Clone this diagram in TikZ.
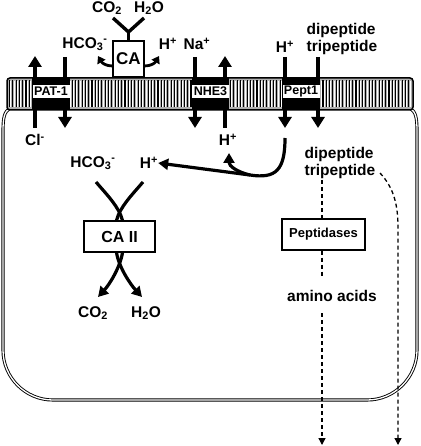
\documentclass[tikz,border=0pt]{standalone}
\usepackage{fontspec}
\setmainfont{Liberation Sans}
\usetikzlibrary{arrows.meta}
\begin{document}
\begin{tikzpicture}[x=1pt,y=-1pt,
  lbl/.style={font=\fontsize{15.5}{17}\selectfont\bfseries, inner sep=0pt},
  tlabel/.style={fill=white, font=\fontsize{12.5}{12.5}\selectfont\bfseries, inner sep=0pt, minimum width=37pt, minimum height=13pt},
  enzbox/.style={draw, line width=1.1pt, fill=white, inner sep=0pt},
  bigarr/.style={line width=4pt, -{Triangle[width=13pt,length=11pt]}},
  midarr/.style={line width=3.2pt, -{Triangle[width=11pt,length=10pt]}},
  smallarr/.style={line width=2.8pt, -{Triangle[width=9pt,length=7pt]}},
  dsh/.style={line width=1.3pt, dash pattern=on 4pt off 3pt, -{Triangle[width=7pt,length=7pt]}},
  dshplain/.style={line width=1.3pt, dash pattern=on 4pt off 3pt}
]
\useasboundingbox (0,0) rectangle (420,446);

% cell outline (double line)
\draw[line width=0.9pt, double=white, double distance=1.3pt]
  (10,108) .. controls (4,112) and (3,118) .. (3,132) -- (3,350)
  .. controls (3,377.6) and (25.4,400) .. (53,400) -- (367,400)
  .. controls (394.6,400) and (417,377.6) .. (417,350) -- (417,132)
  .. controls (417,118) and (416,112) .. (410,108);

% membrane
\fill[gray!62, rounded corners=3pt] (7,78) rectangle (413,110);
\foreach \x in {9.5,12.8,...,411} {
  \draw[line width=1.1pt] (\x,80.5) -- (\x,107.5);
  \draw[white, line width=0.3pt] (\x+1,81) -- (\x+1,107);
}
\draw[line width=1.5pt, rounded corners=3pt] (7,78) rectangle (413,110);

% transporter blocks
\fill (32,78) rectangle (70,110);
\fill (192,78) rectangle (229,110);
\fill (282,78) rectangle (320,110);

% text labels
\node[lbl] (cl) at (35,140) {Cl\textsuperscript{-}};
\node[lbl] (hco3o) at (85,44) {HCO\textsubscript{3}\textsuperscript{-}};
\node[lbl] (co2o) at (107,8) {CO\textsubscript{2}};
\node[lbl] (h2oo) at (149,8) {H\textsubscript{2}O};
\node[lbl] (hca) at (168,44) {H\textsuperscript{+}};
\node[lbl] (na) at (197,44) {Na\textsuperscript{+}};
\node[lbl] (hnhe) at (228,140) {H\textsuperscript{+}};
\node[lbl] (hpept) at (285,47) {H\textsuperscript{+}};
\node[lbl, align=left] (dipo) at (342,39) {dipeptide\\tripeptide};
\node[lbl] (hco3i) at (93,163) {HCO\textsubscript{3}\textsuperscript{-}};
\node[lbl] (hi) at (149,163) {H\textsuperscript{+}};
\node[lbl] (co2i) at (93,313) {CO\textsubscript{2}};
\node[lbl] (h2oi) at (146,313) {H\textsubscript{2}O};
\node[lbl, align=left] (dipi) at (340,163) {dipeptide\\tripeptide};
\node[lbl] (amino) at (332,296) {amino acids};

% CA box and Y
\node[enzbox, minimum width=31pt, minimum height=36pt, font=\fontsize{17}{17}\selectfont\bfseries] (ca) at (128.5,59) {CA};
\coordinate (yj) at (128.5,32);
\coordinate (yl) at (113,18);
\coordinate (yr) at (144,18);
\draw[line width=3.4pt, line join=miter] (yl) -- (yj) -- (yr);
\draw[line width=3.4pt] (ca.north) -- (yj);
\coordinate (cal) at (98,56);
\coordinate (car) at (159,56);
\draw[smallarr] (ca.west |- 0,66) .. controls (106,66) and (102,63) .. (cal);
\draw[smallarr] (ca.east |- 0,66) .. controls (151,66) and (155,63) .. (car);

% transport arrows
\coordinate (p1a) at (35,128); \coordinate (p1b) at (35,56);
\coordinate (p2a) at (65,57);  \coordinate (p2b) at (65,128);
\coordinate (n1a) at (195,57); \coordinate (n1b) at (195,128);
\coordinate (n2a) at (225,128); \coordinate (n2b) at (225,56);
\coordinate (t1a) at (285,57); \coordinate (t1b) at (285,128);
\coordinate (t2a) at (318,57); \coordinate (t2b) at (318,128);
\draw[bigarr] (p1a) -- (p1b);
\draw[bigarr] (p2a) -- (p2b);
\draw[bigarr] (n1a) -- (n1b);
\draw[bigarr] (n2a) -- (n2b);
\draw[bigarr] (t1a) -- (t1b);
\draw[bigarr] (t2a) -- (t2b);

% transporter labels
\node[tlabel] (pat) at (51,91.5) {PAT-1};
\node[tlabel] (nhe) at (210.5,91.5) {NHE3};
\node[tlabel] (pept) at (301,91.5) {Pept1};

% H+ recycling arrow
\coordinate (hs) at (285,138);
\coordinate (hj) at (250,175);
\coordinate (hsm) at (229,153);
\draw[midarr] (hs) .. controls (285,170) and (276,179) .. (hj) -- (hi.east);
\draw[midarr] (hj) .. controls (237,172) and (229,166) .. (hsm);

% CA II
\node[enzbox, minimum width=71pt, minimum height=31pt, font=\fontsize{16}{16}\selectfont\bfseries] (ca2) at (119.5,236.5) {CA II};
\draw[line width=3.2pt] (96,182) .. controls (108,196) and (119,207) .. ([xshift=3pt]ca2.north);
\draw[line width=3.2pt] (143,182) .. controls (131,196) and (120,207) .. ([xshift=-3pt]ca2.north);
\coordinate (c2l) at (98,297);
\coordinate (c2r) at (142,297);
\draw[midarr] ([xshift=3pt]ca2.south) .. controls (120,268) and (109,285) .. (c2l);
\draw[midarr] ([xshift=-3pt]ca2.south) .. controls (119,268) and (131,285) .. (c2r);

% Peptidases
\node[enzbox, minimum width=83pt, minimum height=31pt, font=\fontsize{13}{13}\selectfont\bfseries] (pep) at (323.5,234.5) {Peptidases};
\coordinate (d1) at (322,180);
\coordinate (d2) at (322,278);
\coordinate (d3) at (322,313);
\coordinate (d4) at (322,445);
\draw[dshplain] (d1) -- (pep.north -| d1);
\draw[dshplain] (pep.south -| d2) -- (d2);
\draw[dsh] (d3) -- (d4);
\coordinate (e1) at (380,173);
\coordinate (e2) at (398,445);
\draw[dsh] (e1) .. controls (394,188) and (398,205) .. (398,228) -- (e2);
\end{tikzpicture}
\end{document}
